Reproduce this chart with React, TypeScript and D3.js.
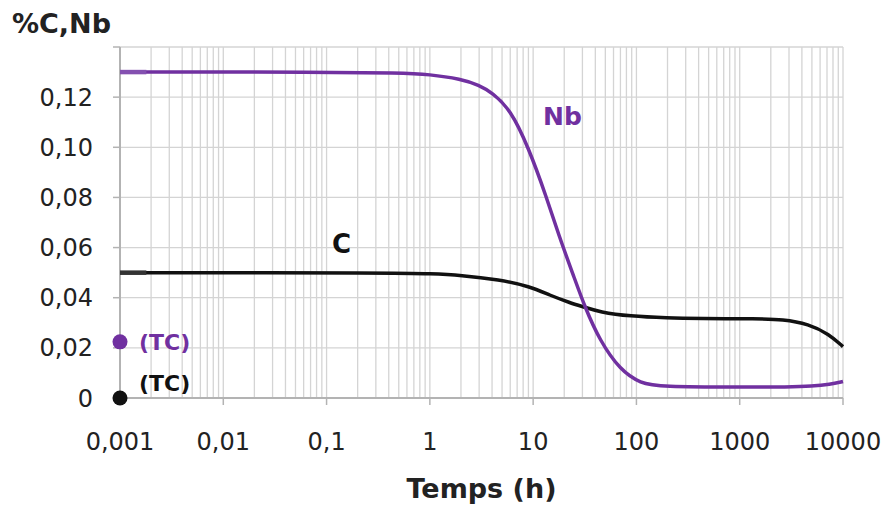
import React from "react";
import * as d3 from "d3";

const xTicks = [0.001, 0.01, 0.1, 1, 10, 100, 1000, 10000];
const xTickLabels = ["0,001", "0,01", "0,1", "1", "10", "100", "1000", "10000"];
const yTicks = [0, 0.02, 0.04, 0.06, 0.08, 0.1, 0.12, 0.14];
const yTickLabels = ["0", "0,02", "0,04", "0,06", "0,08", "0,10", "0,12", ""];

const nbTime = [0.001, 0.1, 0.5, 1, 2, 3, 4, 6, 9, 13.5, 18, 25, 31.6, 44, 70, 110, 170, 1000, 3000, 5000, 7500, 10000];
const nbValue = [0.13, 0.13, 0.1297, 0.1291, 0.1272, 0.1248, 0.1218, 0.1152, 0.1, 0.08, 0.064, 0.048, 0.0364, 0.023, 0.011, 0.0058, 0.0045, 0.0043, 0.0044, 0.0047, 0.0054, 0.0066];

const cTime = [0.001, 0.5, 1, 2, 4.7, 9.3, 14.5, 22.6, 31.6, 44, 86, 200, 400, 1500, 2600, 4650, 7300, 10000];
const cValue = [0.05, 0.0499, 0.0496, 0.049, 0.0472, 0.0445, 0.041, 0.038, 0.0362, 0.0343, 0.0326, 0.0319, 0.0317, 0.0316, 0.0314, 0.0295, 0.0255, 0.0205];

const tcNb = 0.0224;
const tcC = 0;

const PURPLE = "#7030A0";
const BLACK = "#111111";
const FONT = "'DejaVu Sans', Verdana, sans-serif";

export default function App() {
  const W = 884, H = 506;
  const left = 120, right = 843, top = 47, bottom = 398;
  const x = d3.scaleLog().domain([0.001, 10000]).range([left, right]);
  const y = d3.scaleLinear().domain([0, 0.14]).range([bottom, top]);

  const minor: number[] = [];
  for (let e = -3; e < 4; e++) {
    for (let k = 2; k <= 9; k++) minor.push(k * Math.pow(10, e));
  }

  const line = d3
    .line<[number, number]>()
    .x((d) => x(d[0]))
    .y((d) => y(d[1]))
    .curve(d3.curveBasis);

  const nbData = nbTime.map((t, i) => [t, nbValue[i]] as [number, number]);
  const cData = cTime.map((t, i) => [t, cValue[i]] as [number, number]);
  const startEnd = 0.0018;

  return (
    <svg width={W} height={H} style={{ position: "absolute", left: 0, top: 0, background: "#fff" }} fontFamily={FONT}>
      {/* grid */}
      {minor.map((v, i) => (
        <line key={"m" + i} x1={x(v)} x2={x(v)} y1={top} y2={bottom} stroke="#d4d4d4" strokeWidth={1.3} />
      ))}
      {xTicks.map((v, i) => (
        <line key={"gx" + i} x1={x(v)} x2={x(v)} y1={top} y2={bottom} stroke="#d4d4d4" strokeWidth={1.3} />
      ))}
      {yTicks.map((v, i) => (
        <line key={"gy" + i} x1={left} x2={right} y1={y(v)} y2={y(v)} stroke="#d4d4d4" strokeWidth={1.3} />
      ))}
      {/* axes */}
      <line x1={left} x2={left} y1={top} y2={bottom} stroke="#b3b3b3" strokeWidth={2} />
      <line x1={left} x2={right} y1={bottom} y2={bottom} stroke="#b3b3b3" strokeWidth={2} />
      {yTicks.map((v, i) => (
        <line key={"ty" + i} x1={left - 7} x2={left} y1={y(v)} y2={y(v)} stroke="#b3b3b3" strokeWidth={1.5} />
      ))}
      {xTicks.map((v, i) => (
        <line key={"tx" + i} x1={x(v)} x2={x(v)} y1={bottom} y2={bottom + 7} stroke="#b3b3b3" strokeWidth={1.5} />
      ))}
      {/* tick labels */}
      {yTicks.map((v, i) => (
        <text key={"ly" + i} x={93} y={y(v)} dy="0.36em" textAnchor="end" fontSize={24} fill="#222">
          {yTickLabels[i]}
        </text>
      ))}
      {xTicks.map((v, i) => (
        <text key={"lx" + i} x={x(v)} y={450} textAnchor="middle" fontSize={24} fill="#222">
          {xTickLabels[i]}
        </text>
      ))}
      {/* lines */}
      <path d={line(cData) || ""} fill="none" stroke={BLACK} strokeWidth={3.5} />
      <line x1={x(0.001)} x2={x(startEnd)} y1={y(cValue[0])} y2={y(cValue[0])} stroke="#333" strokeWidth={4.5} />
      <path d={line(nbData) || ""} fill="none" stroke={PURPLE} strokeWidth={3.5} />
      <line x1={x(0.001)} x2={x(startEnd)} y1={y(nbValue[0])} y2={y(nbValue[0])} stroke="#8450b0" strokeWidth={4.5} />
      {/* TC points */}
      <circle cx={x(0.001)} cy={y(tcNb)} r={7.5} fill={PURPLE} />
      <circle cx={x(0.001)} cy={y(tcC)} r={7.5} fill={BLACK} />
      <text x={139} y={350} fontSize={22} fontWeight="bold" fill={PURPLE}>(TC)</text>
      <text x={139} y={391} fontSize={22} fontWeight="bold" fill={BLACK}>(TC)</text>
      {/* series labels */}
      <text x={543} y={125} fontSize={25} fontWeight="bold" fill={PURPLE}>Nb</text>
      <text x={332} y={253} fontSize={26} fontWeight="bold" fill={BLACK}>C</text>
      {/* titles */}
      <text x={12} y={33} fontSize={27} fontWeight="bold" fill="#222">%C,Nb</text>
      <text x={(left + right) / 2} y={498} textAnchor="middle" fontSize={27} fontWeight="bold" fill="#222">Temps (h)</text>
    </svg>
  );
}
